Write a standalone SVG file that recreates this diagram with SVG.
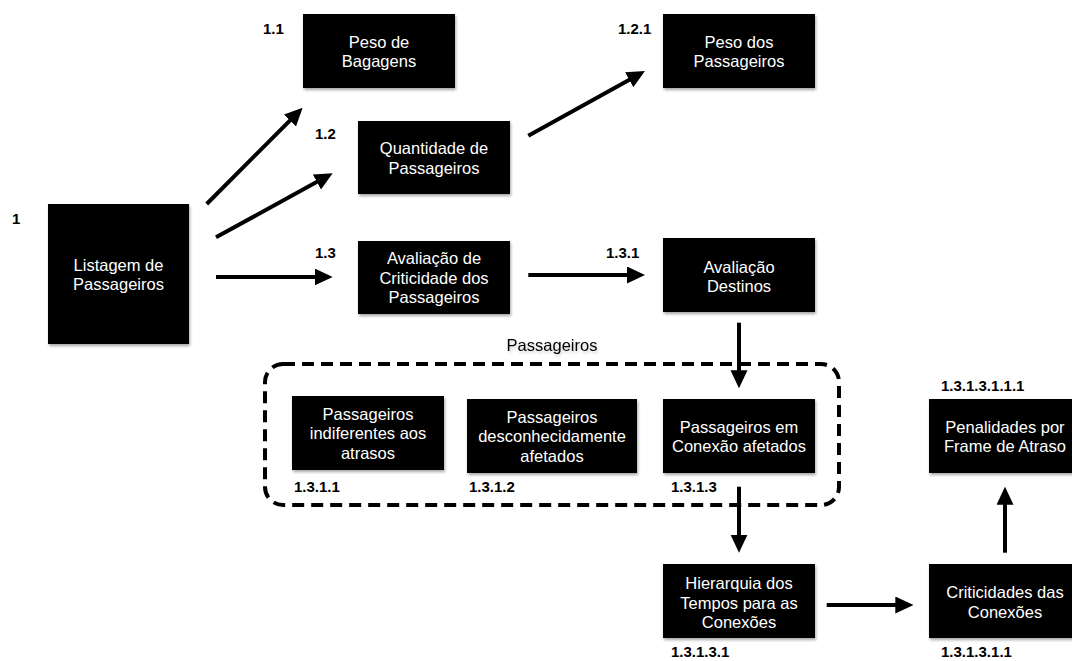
<svg xmlns="http://www.w3.org/2000/svg" width="1072" height="661" viewBox="0 0 1072 661">
<style>
.box{fill:#000;filter:url(#sh)}
.bt{font-family:"Liberation Sans",Arial,sans-serif;font-size:16.5px;fill:#fff;text-anchor:middle}
.lb{font-family:"Liberation Sans",Arial,sans-serif;font-size:15px;font-weight:bold;fill:#000}
.gl{font-family:"Liberation Sans",Arial,sans-serif;font-size:16.5px;fill:#000;text-anchor:middle}
.ar{stroke:#000;stroke-width:4;fill:none;marker-end:url(#ah)}
</style>
<defs>
<filter id="sh" x="-10%" y="-10%" width="130%" height="140%">
<feDropShadow dx="1" dy="2" stdDeviation="1.5" flood-color="#000" flood-opacity="0.35"/>
</filter>
<filter id="tsh" x="-10%" y="-30%" width="130%" height="170%">
<feDropShadow dx="1" dy="2" stdDeviation="1.5" flood-color="#000" flood-opacity="0.2"/>
</filter>
<marker id="ah" markerUnits="userSpaceOnUse" markerWidth="18" markerHeight="18" viewBox="0 0 18 18" refX="8" refY="8.5" orient="auto">
<path d="M0,0 L18,8.5 L0,17 Z" fill="#000"/>
</marker>
</defs>
<rect width="1072" height="661" fill="#fff"/>

<g id="group-passageiros">
<rect x="265" y="364" width="574" height="141" rx="18" ry="18" fill="none" stroke="#000" stroke-width="4" stroke-dasharray="12 7"/>
<text class="gl" x="552" y="351" filter="url(#tsh)">Passageiros</text>
</g>

<g id="connectors">
<line class="ar" x1="206.7" y1="204" x2="295.6" y2="114.8"/>
<line class="ar" x1="216" y1="237.3" x2="323.9" y2="178.1"/>
<line class="ar" x1="216" y1="277" x2="322.7" y2="277"/>
<line class="ar" x1="528.3" y1="135.7" x2="636.2" y2="75.9"/>
<line class="ar" x1="528.3" y1="275" x2="635" y2="275"/>
<line class="ar" x1="739" y1="322.7" x2="739" y2="378.3"/>
<line class="ar" x1="739" y1="486.7" x2="739" y2="542.7"/>
<line class="ar" x1="826.7" y1="605" x2="903.3" y2="605"/>
<line class="ar" x1="1005" y1="552.7" x2="1005" y2="496.7"/>
</g>

<g id="n1">
<rect class="box" x="48" y="204" width="141" height="140"/>
<text class="bt" x="118.5" y="270.5">Listagem de</text>
<text class="bt" x="118.5" y="290">Passageiros</text>
<text class="lb" x="12" y="224">1</text>
</g>

<g id="n1-1">
<rect class="box" x="303" y="14" width="152" height="74"/>
<text class="bt" x="379" y="47.5">Peso de</text>
<text class="bt" x="379" y="67">Bagagens</text>
<text class="lb" x="263" y="34">1.1</text>
</g>

<g id="n1-2">
<rect class="box" x="358" y="121" width="152" height="73"/>
<text class="bt" x="434" y="154">Quantidade de</text>
<text class="bt" x="434" y="173.5">Passageiros</text>
<text class="lb" x="315" y="139">1.2</text>
</g>

<g id="n1-3">
<rect class="box" x="358" y="241" width="152" height="73"/>
<text class="bt" x="434" y="264">Avaliação de</text>
<text class="bt" x="434" y="283.5">Criticidade dos</text>
<text class="bt" x="434" y="303">Passageiros</text>
<text class="lb" x="315" y="258">1.3</text>
</g>

<g id="n1-2-1">
<rect class="box" x="663" y="14" width="152" height="74"/>
<text class="bt" x="739" y="47.5">Peso dos</text>
<text class="bt" x="739" y="67">Passageiros</text>
<text class="lb" x="618" y="34">1.2.1</text>
</g>

<g id="n1-3-1">
<rect class="box" x="663" y="238" width="152" height="74"/>
<text class="bt" x="739" y="272.5">Avaliação</text>
<text class="bt" x="739" y="292">Destinos</text>
<text class="lb" x="606" y="258">1.3.1</text>
</g>

<g id="n1-3-1-1">
<rect class="box" x="292" y="396" width="152" height="74"/>
<text class="bt" x="368" y="419.5">Passageiros</text>
<text class="bt" x="368" y="439">indiferentes aos</text>
<text class="bt" x="368" y="458.5">atrasos</text>
<text class="lb" x="294" y="492">1.3.1.1</text>
</g>

<g id="n1-3-1-2">
<rect class="box" x="467" y="399" width="170" height="74"/>
<text class="bt" x="552" y="422.5">Passageiros</text>
<text class="bt" x="552" y="442">desconhecidamente</text>
<text class="bt" x="552" y="461.5">afetados</text>
<text class="lb" x="469" y="492">1.3.1.2</text>
</g>

<g id="n1-3-1-3">
<rect class="box" x="663" y="399" width="152" height="74"/>
<text class="bt" x="739" y="432.5">Passageiros em</text>
<text class="bt" x="739" y="452">Conexão afetados</text>
<text class="lb" x="671" y="492">1.3.1.3</text>
</g>

<g id="n1-3-1-3-1">
<rect class="box" x="663" y="564" width="152" height="74"/>
<text class="bt" x="739" y="589">Hierarquia dos</text>
<text class="bt" x="739" y="608.5">Tempos para as</text>
<text class="bt" x="739" y="628">Conexões</text>
<text class="lb" x="671" y="657">1.3.1.3.1</text>
</g>

<g id="n1-3-1-3-1-1">
<rect class="box" x="929" y="564" width="152" height="74"/>
<text class="bt" x="1005" y="598">Criticidades das</text>
<text class="bt" x="1005" y="617.5">Conexões</text>
<text class="lb" x="941" y="657">1.3.1.3.1.1</text>
</g>

<g id="n1-3-1-3-1-1-1">
<rect class="box" x="929" y="399" width="152" height="74"/>
<text class="bt" x="1005" y="432.5">Penalidades por</text>
<text class="bt" x="1005" y="452">Frame de Atraso</text>
<text class="lb" x="941" y="391">1.3.1.3.1.1.1</text>
</g>
</svg>
